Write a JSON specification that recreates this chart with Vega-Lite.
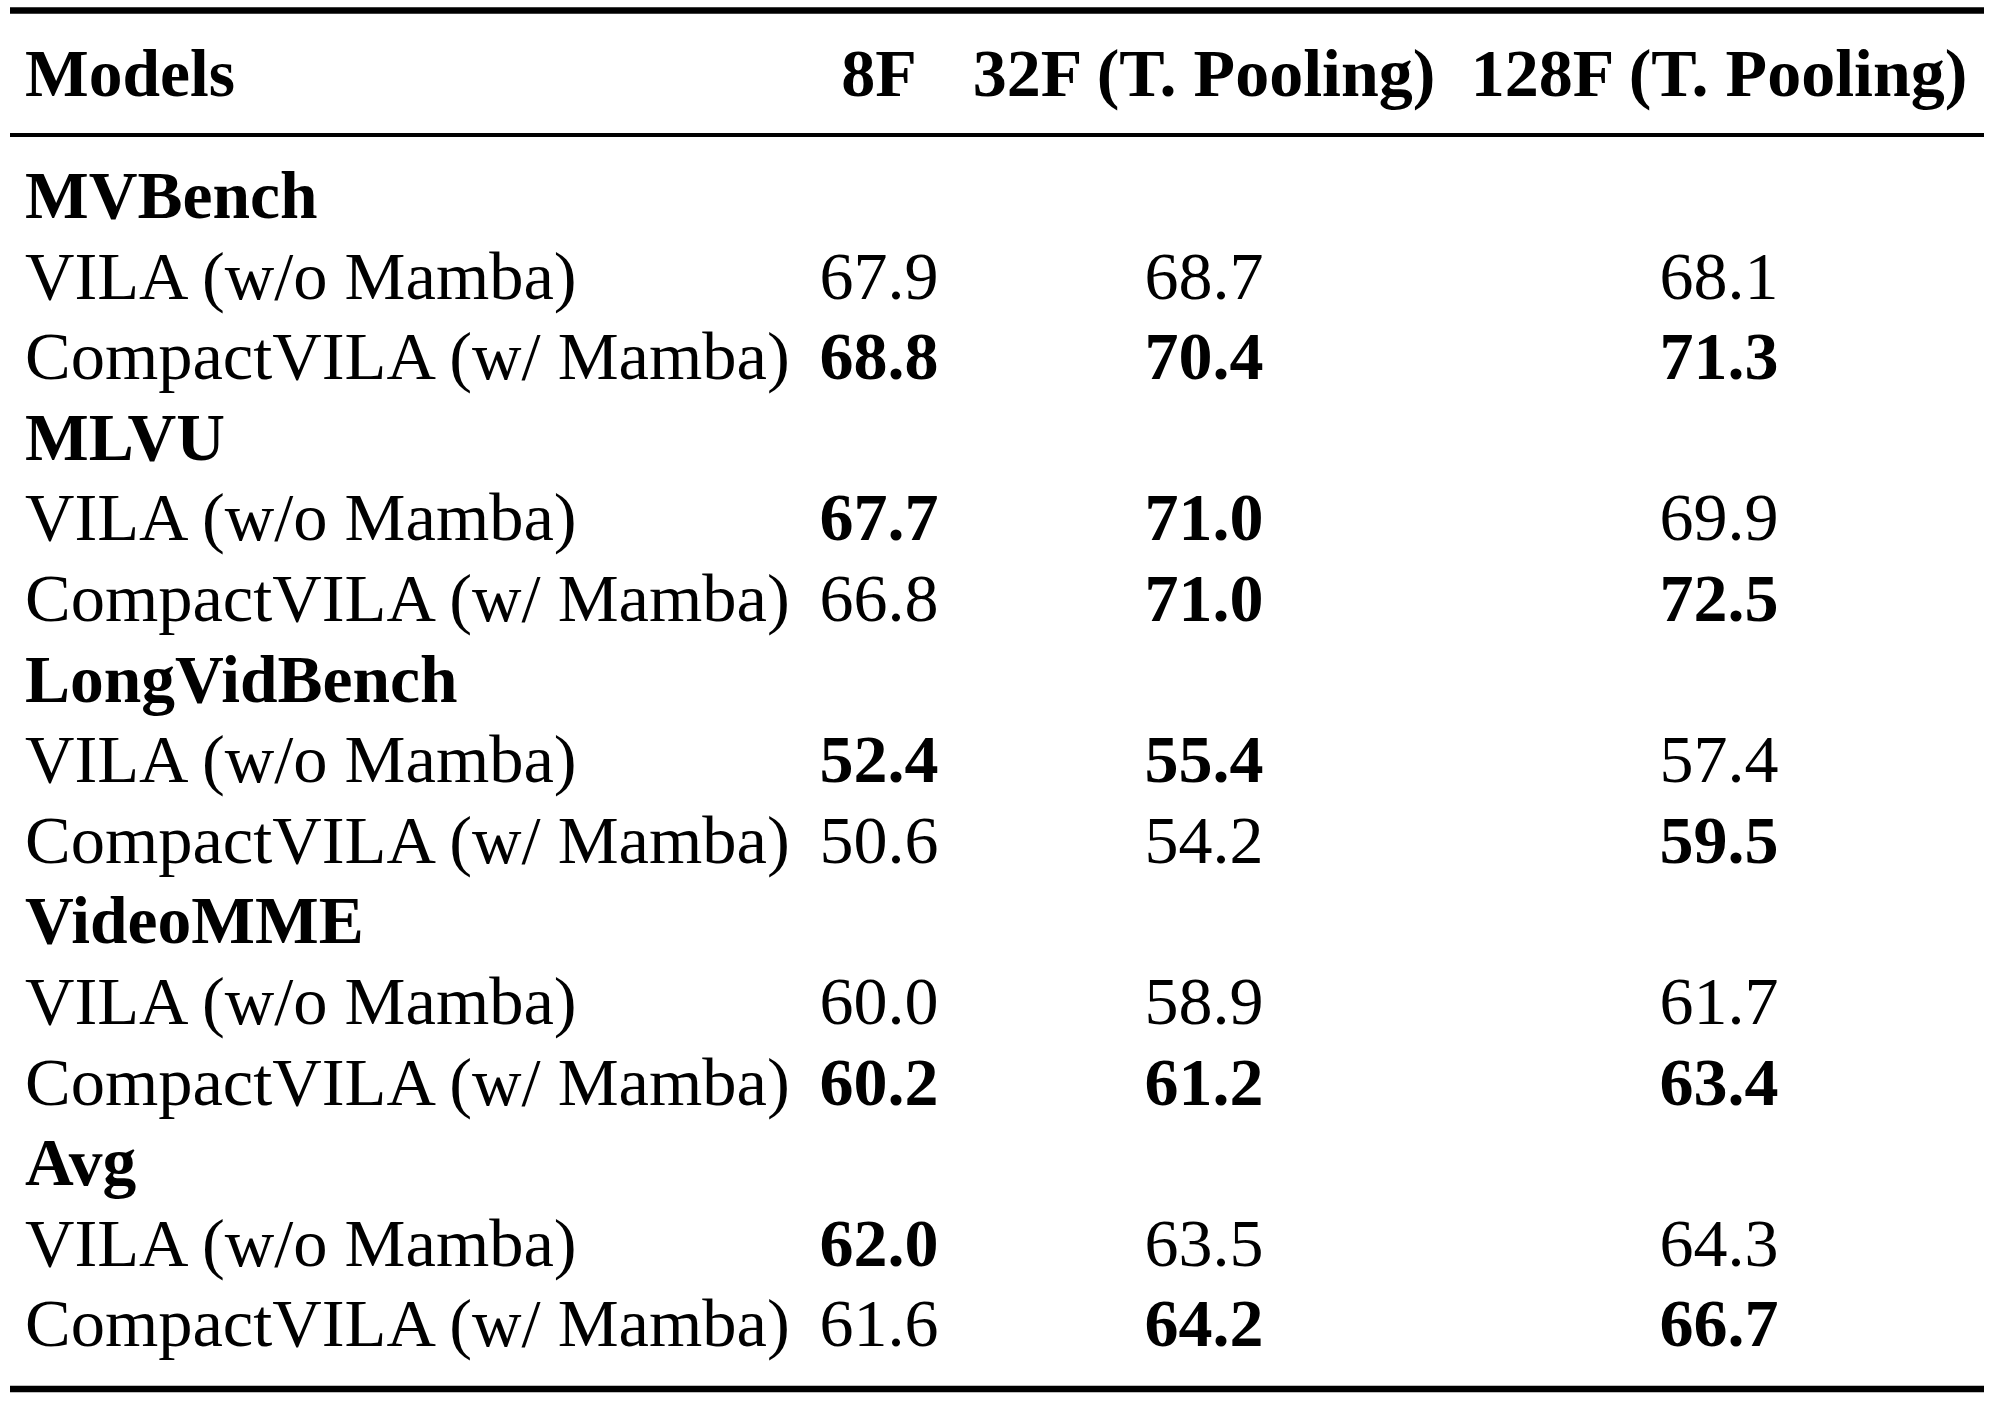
{
  "$schema": "https://vega.github.io/schema/vega-lite/v6.json",
  "width": 1974,
  "height": 1401,
  "padding": {"left": 10, "right": 10, "top": 0, "bottom": 0},
  "autosize": {"type": "none"},
  "background": "white",
  "config": {"view": {"stroke": null}},
  "datasets": {
    "cells": [
      {"row": 0, "col": 0, "text": "Models", "bold": true},
      {"row": 0, "col": 1, "text": "8F", "bold": true},
      {"row": 0, "col": 2, "text": "32F (T. Pooling)", "bold": true},
      {"row": 0, "col": 3, "text": "128F (T. Pooling)", "bold": true},
      {"row": 1, "col": 0, "text": "MVBench", "bold": true},
      {"row": 2, "col": 0, "text": "VILA (w/o Mamba)", "bold": false},
      {"row": 2, "col": 1, "text": "67.9", "bold": false},
      {"row": 2, "col": 2, "text": "68.7", "bold": false},
      {"row": 2, "col": 3, "text": "68.1", "bold": false},
      {"row": 3, "col": 0, "text": "CompactVILA (w/ Mamba)", "bold": false},
      {"row": 3, "col": 1, "text": "68.8", "bold": true},
      {"row": 3, "col": 2, "text": "70.4", "bold": true},
      {"row": 3, "col": 3, "text": "71.3", "bold": true},
      {"row": 4, "col": 0, "text": "MLVU", "bold": true},
      {"row": 5, "col": 0, "text": "VILA (w/o Mamba)", "bold": false},
      {"row": 5, "col": 1, "text": "67.7", "bold": true},
      {"row": 5, "col": 2, "text": "71.0", "bold": true},
      {"row": 5, "col": 3, "text": "69.9", "bold": false},
      {"row": 6, "col": 0, "text": "CompactVILA (w/ Mamba)", "bold": false},
      {"row": 6, "col": 1, "text": "66.8", "bold": false},
      {"row": 6, "col": 2, "text": "71.0", "bold": true},
      {"row": 6, "col": 3, "text": "72.5", "bold": true},
      {"row": 7, "col": 0, "text": "LongVidBench", "bold": true},
      {"row": 8, "col": 0, "text": "VILA (w/o Mamba)", "bold": false},
      {"row": 8, "col": 1, "text": "52.4", "bold": true},
      {"row": 8, "col": 2, "text": "55.4", "bold": true},
      {"row": 8, "col": 3, "text": "57.4", "bold": false},
      {"row": 9, "col": 0, "text": "CompactVILA (w/ Mamba)", "bold": false},
      {"row": 9, "col": 1, "text": "50.6", "bold": false},
      {"row": 9, "col": 2, "text": "54.2", "bold": false},
      {"row": 9, "col": 3, "text": "59.5", "bold": true},
      {"row": 10, "col": 0, "text": "VideoMME", "bold": true},
      {"row": 11, "col": 0, "text": "VILA (w/o Mamba)", "bold": false},
      {"row": 11, "col": 1, "text": "60.0", "bold": false},
      {"row": 11, "col": 2, "text": "58.9", "bold": false},
      {"row": 11, "col": 3, "text": "61.7", "bold": false},
      {"row": 12, "col": 0, "text": "CompactVILA (w/ Mamba)", "bold": false},
      {"row": 12, "col": 1, "text": "60.2", "bold": true},
      {"row": 12, "col": 2, "text": "61.2", "bold": true},
      {"row": 12, "col": 3, "text": "63.4", "bold": true},
      {"row": 13, "col": 0, "text": "Avg", "bold": true},
      {"row": 14, "col": 0, "text": "VILA (w/o Mamba)", "bold": false},
      {"row": 14, "col": 1, "text": "62.0", "bold": true},
      {"row": 14, "col": 2, "text": "63.5", "bold": false},
      {"row": 14, "col": 3, "text": "64.3", "bold": false},
      {"row": 15, "col": 0, "text": "CompactVILA (w/ Mamba)", "bold": false},
      {"row": 15, "col": 1, "text": "61.6", "bold": false},
      {"row": 15, "col": 2, "text": "64.2", "bold": true},
      {"row": 15, "col": 3, "text": "66.7", "bold": true}
    ],
    "rules": [
      {"line": 0, "kind": "thick"},
      {"line": 1, "kind": "thin"},
      {"line": 2, "kind": "thick"}
    ]
  },
  "resolve": {"scale": {"x": "independent", "y": "independent"}},
  "layer": [
    {
      "data": {"name": "rules"},
      "mark": {"type": "rule", "color": "black"},
      "encoding": {
        "y": {"field": "line", "type": "quantitative", "axis": null,
              "scale": {"domain": [0, 1, 2], "range": [10.5, 135, 1389], "zero": false, "nice": false}},
        "strokeWidth": {"field": "kind", "type": "nominal", "legend": null,
              "scale": {"domain": ["thick", "thin"], "range": [6.5, 4]}}
      }
    },
    {
      "data": {"name": "cells"},
      "transform": [{"filter": "datum.col == 0 && datum.bold"}],
      "mark": {"type": "text", "align": "left", "baseline": "alphabetic", "font": "Liberation Serif", "fontSize": 67.5, "fontWeight": "bold", "color": "black"},
      "encoding": {
        "x": {"field": "col", "type": "quantitative", "axis": null,
              "scale": {"domain": [0, 1, 2, 3], "range": [15, 869, 1194, 1709], "zero": false, "nice": false}},
        "y": {"field": "row", "type": "quantitative", "axis": null,
              "scale": {"domain": [0, 1, 15], "range": [96, 218, 1346.4], "zero": false, "nice": false}},
        "text": {"field": "text", "type": "nominal"}
      }
    },
    {
      "data": {"name": "cells"},
      "transform": [{"filter": "datum.col == 0 && !datum.bold"}],
      "mark": {"type": "text", "align": "left", "baseline": "alphabetic", "font": "Liberation Serif", "fontSize": 68.5, "fontWeight": "normal", "color": "black"},
      "encoding": {
        "x": {"field": "col", "type": "quantitative", "axis": null,
              "scale": {"domain": [0, 1, 2, 3], "range": [15, 869, 1194, 1709], "zero": false, "nice": false}},
        "y": {"field": "row", "type": "quantitative", "axis": null,
              "scale": {"domain": [0, 1, 15], "range": [96, 218, 1346.4], "zero": false, "nice": false}},
        "text": {"field": "text", "type": "nominal"}
      }
    },
    {
      "data": {"name": "cells"},
      "transform": [{"filter": "datum.col > 0 && datum.bold"}],
      "mark": {"type": "text", "align": "center", "baseline": "alphabetic", "font": "Liberation Serif", "fontSize": 68, "fontWeight": "bold", "color": "black"},
      "encoding": {
        "x": {"field": "col", "type": "quantitative", "axis": null,
              "scale": {"domain": [0, 1, 2, 3], "range": [15, 869, 1194, 1709], "zero": false, "nice": false}},
        "y": {"field": "row", "type": "quantitative", "axis": null,
              "scale": {"domain": [0, 1, 15], "range": [96, 218, 1346.4], "zero": false, "nice": false}},
        "text": {"field": "text", "type": "nominal"}
      }
    },
    {
      "data": {"name": "cells"},
      "transform": [{"filter": "datum.col > 0 && !datum.bold"}],
      "mark": {"type": "text", "align": "center", "baseline": "alphabetic", "font": "Liberation Serif", "fontSize": 68, "fontWeight": "normal", "color": "black"},
      "encoding": {
        "x": {"field": "col", "type": "quantitative", "axis": null,
              "scale": {"domain": [0, 1, 2, 3], "range": [15, 869, 1194, 1709], "zero": false, "nice": false}},
        "y": {"field": "row", "type": "quantitative", "axis": null,
              "scale": {"domain": [0, 1, 15], "range": [96, 218, 1346.4], "zero": false, "nice": false}},
        "text": {"field": "text", "type": "nominal"}
      }
    }
  ]
}
